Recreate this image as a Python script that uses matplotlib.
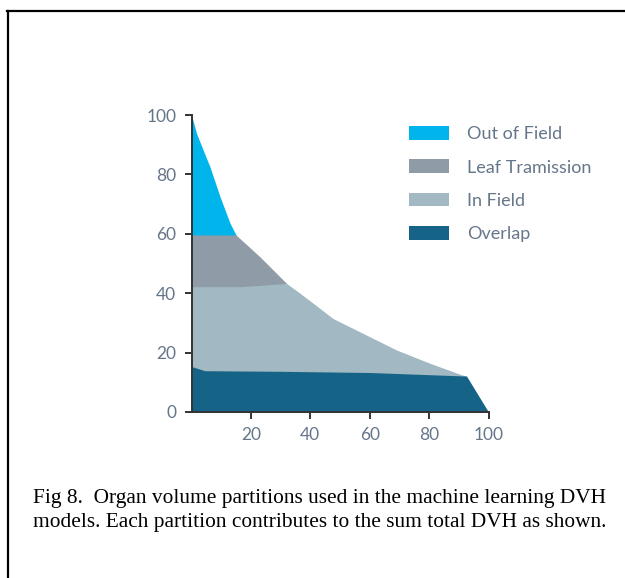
import numpy as np
import matplotlib
matplotlib.use('Agg')
import matplotlib.pyplot as plt
from matplotlib.lines import Line2D

# --- data (dose % vs volume %) ---
out_x = [0, 1.7, 4, 6.2, 9.6, 13, 15]
out_top = [100, 93.8, 88, 82.6, 72.5, 63.5, 59.6]

leaf_x = [0, 15, 23, 32]
leaf_top = [59.6, 59.6, 52.3, 43.3]

field_x = [0, 17, 32, 36.5, 41, 47.6, 57.7, 69, 80.3, 91, 92.6]
field_top = [42.2, 42.2, 43.3, 40, 36.6, 31.5, 26.5, 20.9, 16.4, 12.5, 12.1]

overlap_x = [0, 1, 4.5, 30, 60, 92.6, 100]
overlap_top = [15.3, 15.0, 13.9, 13.7, 13.3, 12.1, 0]

labels = ['Out of Field', 'Leaf Tramission', 'In Field', 'Overlap']
colors = ['#00b5ec', '#8f9ca7', '#a2b8c2', '#156386']

xticks = [20, 40, 60, 80, 100]
yticks = [0, 20, 40, 60, 80, 100]

caption = ('Fig 8.  Organ volume partitions used in the machine learning DVH\n'
           'models. Each partition contributes to the sum total DVH as shown.')

plt.rcParams['font.family'] = ['Lato', 'DejaVu Sans']
label_color = '#66768a'
axis_color = '#333333'

fig = plt.figure(figsize=(6.25, 5.78), dpi=100)
ax = fig.add_axes([191.5/625, 166/578, 297/625, 297/578])

# layers drawn back to front, each covering the one beneath
h1 = ax.fill_between(out_x, 0, out_top, color=colors[0], lw=0, label=labels[0])
h2 = ax.fill_between(leaf_x, 0, leaf_top, color=colors[1], lw=0, label=labels[1])
h3 = ax.fill_between(field_x, 0, field_top, color=colors[2], lw=0, label=labels[2])
h4 = ax.fill_between(overlap_x, 0, overlap_top, color=colors[3], lw=0, label=labels[3])

ax.set_xlim(0, 100)
ax.set_ylim(0, 100)
ax.set_xticks(xticks)
ax.set_yticks(yticks)
for s in ['top', 'right']:
    ax.spines[s].set_visible(False)
for s in ['left', 'bottom']:
    ax.spines[s].set_color(axis_color)
    ax.spines[s].set_linewidth(1.4)
    ax.spines[s].set_zorder(5)
ax.tick_params(direction='out', length=5, width=1.4, color=axis_color,
               labelcolor=label_color, labelsize=12.5, pad=6)

leg = fig.legend(handles=[h1, h2, h3, h4], loc='upper left',
                 bbox_to_anchor=(409/625, 1 - 126/578), frameon=False,
                 fontsize=13, handlelength=2.2, handleheight=0.8,
                 handletextpad=1.0, labelspacing=0.95, borderpad=0,
                 borderaxespad=0)
for t in leg.get_texts():
    t.set_color(label_color)

fig.text(33/625, 1 - 489/578, caption, va='top', ha='left',
         family='Liberation Serif', fontsize=15.4, linespacing=1.38)

# frame lines on top and left side of the page
fig.add_artist(Line2D([7/625, 1], [1 - 11/578, 1 - 11/578], color='k', lw=1.6,
                      transform=fig.transFigure))
fig.add_artist(Line2D([8/625, 8/625], [1 - 11/578, 0], color='k', lw=1.6,
                      transform=fig.transFigure))

fig.savefig('out.png', dpi=100)
